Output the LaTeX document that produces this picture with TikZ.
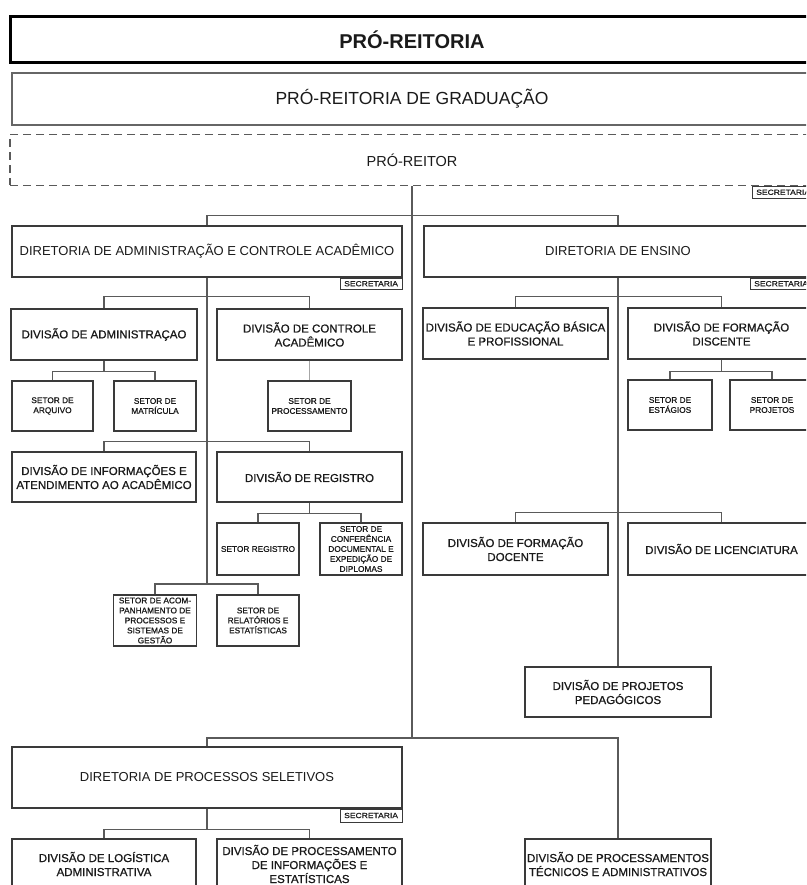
\documentclass[tikz,border=0pt]{standalone}
\usepackage{fontspec}
\setmainfont{Liberation Sans}
\newfontfamily\divfont{Liberation Sans}[FakeBold=0.8]
\newfontfamily\secfont{Liberation Sans}[FakeStretch=1.15, FakeBold=0.6]
\definecolor{boxc}{HTML}{3A3A3A}
\definecolor{linec}{HTML}{5A5A5A}
\definecolor{txt}{HTML}{1A1A1A}
\begin{document}
\begin{tikzpicture}[x=1pt,y=-1pt,
  box/.style={draw=boxc, line width=1.1pt, fill=white, inner sep=0pt, align=center, text=txt},
  dirbox/.style={box, font=\fontsize{13}{16}\selectfont},
  divbox/.style={box, font=\divfont\fontsize{11.5}{14}\selectfont},
  setbox/.style={box, font=\divfont\fontsize{8.3}{10}\selectfont},
  secbox/.style={draw=boxc, line width=0.9pt, fill=white, inner sep=0pt, text=txt,
    minimum width=62pt, minimum height=11.5pt, anchor=north east, font=\secfont\fontsize{7.4}{8}\selectfont},
  conn/.style={draw=linec, line width=1.2pt}]
\useasboundingbox (0,0) rectangle (806,885);
\clip (0,0) rectangle (806,885);

% top boxes
\node[box, draw=black, line width=3pt, minimum width=804pt, minimum height=46pt,
  font=\bfseries\fontsize{20}{24}\selectfont] (A) at (412,40) {PRÓ-REITORIA};
\node[box, draw=gray!80!black, minimum width=800pt, minimum height=52pt,
  font=\fontsize{17.5}{21}\selectfont] (B) at (412,99) {PRÓ-REITORIA DE GRADUAÇÃO};
\node[box, draw=linec, dashed, dash pattern=on 8pt off 5pt, line width=1.2pt, minimum width=804pt, minimum height=51pt,
  font=\fontsize{14.5}{18}\selectfont] (C) at (412,160) {PRÓ-REITOR};
\node[secbox] (sC) at (C.south east) {SECRETARIA};

% directorates
\node[dirbox, minimum width=390pt, minimum height=51pt] (DAC) at (207,251.5) {DIRETORIA DE ADMINISTRAÇÃO E CONTROLE ACADÊMICO};
\node[secbox] (sDAC) at (DAC.south east) {SECRETARIA};
\node[dirbox, minimum width=388pt, minimum height=51pt] (DE) at (618,251.5) {DIRETORIA DE ENSINO};
\node[secbox] (sDE) at (DE.south east) {SECRETARIA};

% left branch
\node[divbox, minimum width=186pt, minimum height=51pt] (DivAdm) at (104,334.5) {DIVISÃO DE ADMINISTRAÇAO};
\node[divbox, minimum width=185pt, minimum height=51pt] (DivCA) at (309.5,334.5) {DIVISÃO DE CONTROLE\\ACADÊMICO};
\node[setbox, minimum width=81pt, minimum height=50pt] (Arq) at (52.5,406) {SETOR DE\\ARQUIVO};
\node[setbox, minimum width=82pt, minimum height=50pt] (Mat) at (155,406) {SETOR DE\\MATRÍCULA};
\node[setbox, minimum width=83pt, minimum height=50pt] (Proc) at (309.5,406) {SETOR DE\\PROCESSAMENTO};
\node[divbox, minimum width=184pt, minimum height=50pt] (DivInfo) at (104,477) {DIVISÃO DE INFORMAÇÕES E\\ATENDIMENTO AO ACADÊMICO};
\node[divbox, minimum width=185pt, minimum height=50pt] (DivReg) at (309.5,477) {DIVISÃO DE REGISTRO};
\node[setbox, minimum width=82pt, minimum height=52pt] (SReg) at (258,549) {SETOR REGISTRO};
\node[setbox, minimum width=82pt, minimum height=52pt] (SConf) at (361,549) {SETOR DE\\CONFERÊNCIA\\DOCUMENTAL E\\EXPEDIÇÃO DE\\DIPLOMAS};
\node[setbox, minimum width=83pt, minimum height=51pt] (Acom) at (155,620.5) {SETOR DE ACOM-\\PANHAMENTO DE\\PROCESSOS E\\SISTEMAS DE\\GESTÃO};
\node[setbox, minimum width=82pt, minimum height=51pt] (Rel) at (258,620.5) {SETOR DE\\RELATÓRIOS E\\ESTATÍSTICAS};

% right branch
\node[divbox, minimum width=185pt, minimum height=51pt] (DivEdu) at (515.5,333.5) {DIVISÃO DE EDUCAÇÃO BÁSICA\\E PROFISSIONAL};
\node[divbox, minimum width=187pt, minimum height=51pt] (DivFD) at (721.5,333.5) {DIVISÃO DE FORMAÇÃO\\DISCENTE};
\node[setbox, minimum width=84pt, minimum height=50pt] (Est) at (670,405) {SETOR DE\\ESTÁGIOS};
\node[setbox, minimum width=84pt, minimum height=50pt] (Proj) at (772,405) {SETOR DE\\PROJETOS};
\node[divbox, minimum width=185pt, minimum height=52pt] (DivFDoc) at (515.5,549) {DIVISÃO DE FORMAÇÃO\\DOCENTE};
\node[divbox, minimum width=187pt, minimum height=52pt] (DivLic) at (721.5,549) {DIVISÃO DE LICENCIATURA};
\node[divbox, minimum width=186pt, minimum height=50pt] (DPP) at (618,692) {DIVISÃO DE PROJETOS\\PEDAGÓGICOS};

% bottom
\node[dirbox, minimum width=390pt, minimum height=61pt] (DPS) at (207,777.5) {DIRETORIA DE PROCESSOS SELETIVOS};
\node[secbox, minimum height=13pt] (sDPS) at (DPS.south east) {SECRETARIA};
\node[divbox, minimum width=184pt, minimum height=50pt] (DivLog) at (104,864) {DIVISÃO DE LOGÍSTICA\\ADMINISTRATIVA};
\node[divbox, minimum width=185pt, minimum height=50pt] (DivPI) at (309.5,864) {DIVISÃO DE PROCESSAMENTO\\DE INFORMAÇÕES E\\ESTATÍSTICAS};
\node[divbox, minimum width=186pt, minimum height=50pt] (DivPTA) at (618,864) {DIVISÃO DE PROCESSAMENTOS\\TÉCNICOS E ADMINISTRATIVOS};

% connectors
\coordinate (jt) at (412,738);
\draw[conn] (C.south) -- (jt);
\draw[conn] (DAC.north) -- ++(0,-10) -| (DE.north);
\draw[conn] (DPS.north) |- (jt) -| (DivPTA.north);

\coordinate (jl) at (207,584);
\draw[conn] (DAC.south) -- (jl);
\draw[conn] (DivAdm.north) -- ++(0,-12) -| (DivCA.north);
\draw[conn] (DivAdm.south) -- ++(0,11) coordinate (ja);
\draw[conn] (Arq.north) |- (ja) -| (Mat.north);
\draw[conn, draw=gray!70] (DivCA.south) -- (Proc.north);
\draw[conn] (DivInfo.north) -- ++(0,-10) -| (DivReg.north);
\draw[conn] (DivReg.south) -- ++(0,11) coordinate (jr);
\draw[conn] (SReg.north) |- (jr) -| (SConf.north);
\draw[conn] (Acom.north) |- (jl) -| (Rel.north);

\draw[conn] (DE.south) -- (DPP.north);
\draw[conn] (DivEdu.north) -- ++(0,-11) -| (DivFD.north);
\draw[conn] (DivFD.south) -- ++(0,12) coordinate (jf);
\draw[conn] (Est.north) |- (jf) -| (Proj.north);
\draw[conn] (DivFDoc.north) -- ++(0,-10) -| (DivLic.north);

\draw[conn] (DPS.south) -- ++(0,21) coordinate (jp);
\draw[conn] (DivLog.north) |- (jp) -| (DivPI.north);
\end{tikzpicture}
\end{document}
